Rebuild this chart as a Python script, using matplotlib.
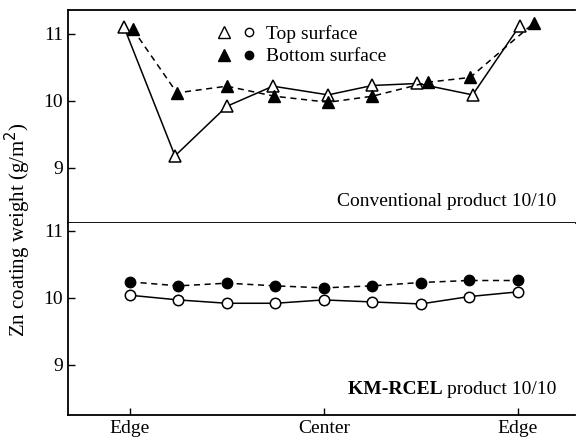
import matplotlib
matplotlib.use("Agg")
import matplotlib.pyplot as plt
from matplotlib.lines import Line2D
from matplotlib.legend_handler import HandlerTuple

plt.rcParams['font.family'] = ['Liberation Serif', 'DejaVu Serif']

# measuring positions across the strip width (0 = edge, 4 = center, 8 = edge)
conv_top_x = [-0.12, 0.93, 2.0, 2.95, 4.09, 5.0, 5.93, 7.07, 8.04]
conv_bot_x = [0.06, 0.97, 2.0, 2.98, 4.09, 5.0, 6.16, 7.02, 8.33]
km_x = [0, 1, 2, 3, 4, 5, 6, 7, 8]

# Zn coating weight (g/m2)
conv_top = [11.10, 9.18, 9.92, 10.22, 10.09, 10.23, 10.26, 10.09, 11.12]
conv_bot = [11.07, 10.12, 10.22, 10.07, 9.98, 10.07, 10.28, 10.35, 11.16]
km_top = [10.04, 9.97, 9.92, 9.92, 9.97, 9.94, 9.91, 10.02, 10.09]
km_bot = [10.24, 10.18, 10.22, 10.18, 10.15, 10.18, 10.23, 10.26, 10.26]

xtick_pos = [0, 4, 8]
xtick_labels = ['Edge', 'Center', 'Edge']

fig = plt.figure(figsize=(5.8, 4.44), dpi=100)
ax1 = fig.add_axes([0.117, 0.498, 0.875, 0.480])
ax2 = fig.add_axes([0.117, 0.065, 0.875, 0.433])

dash = (0, (4, 3))
ax1.plot(conv_top_x, conv_top, color='black', lw=1.1, marker='^', ms=9,
         mfc='white', mec='black', mew=1.1, zorder=3)
ax1.plot(conv_bot_x, conv_bot, color='black', lw=1.1, ls=dash, marker='^', ms=9,
         mfc='black', mec='black', zorder=3)
ax2.plot(km_x, km_top, color='black', lw=1.1, marker='o', ms=7.5,
         mfc='white', mec='black', mew=1.1, zorder=3)
ax2.plot(km_x, km_bot, color='black', lw=1.1, ls=dash, marker='o', ms=7.5,
         mfc='black', mec='black', zorder=3)

for ax in (ax1, ax2):
    ax.set_xlim(-1.28, 9.19)
    ax.spines['right'].set_visible(False)
    for s in ax.spines.values():
        s.set_linewidth(1.3)
    ax.tick_params(direction='in', length=5, width=1, labelsize=14)
    ax.set_yticks([9, 10, 11])

ax1.set_ylim(8.18, 11.36)
ax2.set_ylim(8.25, 11.12)
ax2.spines['top'].set_visible(False)
ax1.set_xticks([])
ax2.set_xticks(xtick_pos)
ax2.set_xticklabels(xtick_labels, fontsize=14)

ax1.text(0.962, 0.06, 'Conventional product 10/10', transform=ax1.transAxes,
         ha='right', va='bottom', fontsize=14)
t = ax2.text(0.962, 0.09, 'product 10/10', transform=ax2.transAxes,
             ha='right', va='bottom', fontsize=14)
ax2.annotate('KM-RCEL ', xy=(0, 0), xycoords=t, ha='right', va='bottom',
             fontsize=14, fontweight='bold')

fig.text(0.031, 0.482, 'Zn coating weight (g/m$^2$)', rotation=90,
         ha='center', va='center', fontsize=15)

h_top = (Line2D([], [], ls='none', marker='^', ms=9, mfc='white', mec='black'),
         Line2D([], [], ls='none', marker='o', ms=6, mfc='white', mec='black'))
h_bot = (Line2D([], [], ls='none', marker='^', ms=9, mfc='black', mec='black'),
         Line2D([], [], ls='none', marker='o', ms=6, mfc='black', mec='black'))
ax1.legend([h_top, h_bot], ['Top surface', 'Bottom surface'],
           handler_map={tuple: HandlerTuple(ndivide=None, pad=0.3)},
           loc='upper left', bbox_to_anchor=(0.275, 0.965), frameon=False,
           fontsize=14, handlelength=2.2, handletextpad=0.4, labelspacing=0.25,
           borderaxespad=0)

fig.savefig('out.png', dpi=100)
